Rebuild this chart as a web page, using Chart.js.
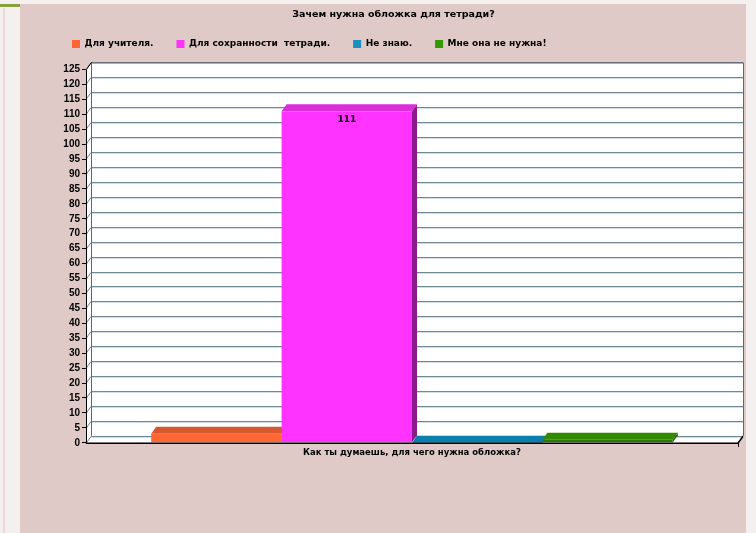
<!DOCTYPE html>
<html>
<head>
<meta charset="utf-8">
<script src="https://cdn.jsdelivr.net/npm/chart.js@4.4.1/dist/chart.umd.min.js"></script>
<style>
  html, body { margin: 0; padding: 0; }
  body { width: 756px; height: 533px; background: #f4f0f0; position: relative; overflow: hidden; }
  #stripe { position: absolute; left: 3px; top: 8px; width: 2px; height: 525px; background: #ead8d8; }
  #greenLine { position: absolute; left: 0; top: 4px; width: 20px; height: 3px; background: #8aa040; }
  #panel { position: absolute; left: 20px; top: 4px; width: 726px; height: 529px; background: #dfcac8; }
</style>
</head>
<body>
<div id="stripe"></div>
<div id="greenLine"></div>
<div id="panel"><canvas id="surveyChart"></canvas></div>
<script>
// Данные опроса
const categories = [''];
const seriesNames = ['Для учителя.', 'Для сохранности  тетради.', 'Не знаю.', 'Мне она не нужна!'];
const seriesValues = [3, 111, 0, 1];
const showValue = [false, true, false, false];
const yMax = 125;
const yStep = 5;

// Цвета граней столбиков
const frontColors = ['#ff6633', '#ff33ff', '#0a7fae', '#2a7a00'];
const topColors = ['#d6582e', '#d92ed9', '#0a7fae', '#338a00'];
const sideColors = ['#a83f1f', '#8c1a8c', '#065f82', '#1f5a00'];
const legendColors = ['#ff6633', '#ff33ff', '#1a8fc0', '#339900'];

const DX = 5, DY = 7;
const FONT = 'DejaVu Sans';

// Стенки, сетка и объём столбиков
const box3d = {
    id: 'box3d',
    beforeInit(chart) {
        const fit = chart.legend.fit;
        chart.legend.fit = function () {
            fit.bind(this)();
            this.height += 11;
        };
    },
    beforeDatasetsDraw(chart) {
        const ctx = chart.ctx;
        const a = chart.chartArea;
        const y = chart.scales.y;
        ctx.save();
        ctx.fillStyle = '#ffffff';
        ctx.fillRect(a.left + DX, a.top - DY, a.right - a.left, a.bottom - a.top);
        ctx.beginPath();
        ctx.moveTo(a.left, a.bottom);
        ctx.lineTo(a.left, a.top);
        ctx.lineTo(a.left + DX, a.top - DY);
        ctx.lineTo(a.left + DX, a.bottom - DY);
        ctx.lineTo(a.right + DX, a.bottom - DY);
        ctx.lineTo(a.right, a.bottom);
        ctx.closePath();
        ctx.fill();

        // линии сетки
        for (let v = 0; v <= yMax; v += yStep) {
            const yy = Math.round(y.getPixelForValue(v) - DY) + 0.5;
            ctx.strokeStyle = '#6f8a94';
            ctx.lineWidth = 1;
            ctx.beginPath();
            ctx.moveTo(a.left, yy + DY);
            ctx.lineTo(a.left + DX, yy);
            ctx.lineTo(a.right + DX, yy);
            ctx.stroke();
            ctx.strokeStyle = '#d2dde1';
            ctx.beginPath();
            ctx.moveTo(a.left + DX, yy + 1);
            ctx.lineTo(a.right + DX, yy + 1);
            ctx.stroke();
        }
        ctx.strokeStyle = '#666666';
        ctx.beginPath();
        ctx.moveTo(a.left + DX + 0.5, a.bottom - DY);
        ctx.lineTo(a.left + DX + 0.5, a.top - DY + 0.5);
        ctx.lineTo(a.right + DX + 0.5, a.top - DY + 0.5);
        ctx.lineTo(a.right + DX + 0.5, a.bottom - DY);
        ctx.stroke();

        // верх и бок столбиков
        chart.data.datasets.forEach((ds, i) => {
            const bar = chart.getDatasetMeta(i).data[0];
            const l = bar.x - bar.width / 2, r = bar.x + bar.width / 2;
            ctx.fillStyle = sideColors[i];
            ctx.beginPath();
            ctx.moveTo(r, bar.y);
            ctx.lineTo(r + DX, bar.y - DY);
            ctx.lineTo(r + DX, bar.base - DY);
            ctx.lineTo(r, bar.base);
            ctx.closePath();
            ctx.fill();
            ctx.fillStyle = topColors[i];
            ctx.beginPath();
            ctx.moveTo(l, bar.y);
            ctx.lineTo(r, bar.y);
            ctx.lineTo(r + DX, bar.y - DY);
            ctx.lineTo(l + DX, bar.y - DY);
            ctx.closePath();
            ctx.fill();
        });
        ctx.restore();
    },
    afterDatasetsDraw(chart) {
        const ctx = chart.ctx;
        const a = chart.chartArea;
        ctx.save();
        ctx.strokeStyle = '#000000';
        ctx.lineWidth = 1;
        ctx.beginPath();
        ctx.moveTo(a.left + 0.5, a.bottom);
        ctx.lineTo(a.left + 0.5, a.top);
        ctx.lineTo(a.left + DX + 0.5, a.top - DY);
        ctx.stroke();
        ctx.lineWidth = 1.5;
        ctx.beginPath();
        ctx.moveTo(a.left, a.bottom + 0.5);
        ctx.lineTo(a.right, a.bottom + 0.5);
        ctx.lineTo(a.right + DX, a.bottom - DY + 0.5);
        ctx.stroke();
        ctx.lineWidth = 1;
        ctx.beginPath();
        ctx.moveTo(a.right + 0.5, a.bottom);
        ctx.lineTo(a.right + 0.5, a.bottom + 4);
        ctx.stroke();

        // подпись значения
        ctx.fillStyle = '#000000';
        ctx.font = 'bold 9px ' + FONT;
        ctx.textAlign = 'center';
        ctx.textBaseline = 'middle';
        chart.data.datasets.forEach((ds, i) => {
            if (!showValue[i]) return;
            const bar = chart.getDatasetMeta(i).data[0];
            ctx.fillText(String(ds.data[0]), bar.x, bar.y + 8);
        });
        ctx.restore();
    }
};

const surveyChart = new Chart(document.getElementById('surveyChart'), {
    type: 'bar',
    data: {
        labels: categories,
        datasets: seriesNames.map((name, i) => ({
            label: name,
            data: [seriesValues[i]],
            backgroundColor: frontColors[i],
            borderWidth: 0
        }))
    },
    options: {
        responsive: true,
        maintainAspectRatio: false,
        animation: false,
        layout: { padding: { left: 29, right: 8, top: 0, bottom: 66 } },
        datasets: { bar: { barPercentage: 1, categoryPercentage: 0.8 } },
        plugins: {
            title: {
                display: true,
                text: 'Зачем нужна обложка для тетради?',
                color: '#000',
                font: { family: FONT, size: 9.5, weight: 'bold' },
                padding: { top: 5, bottom: -4 }
            },
            legend: {
                position: 'top',
                align: 'start',
                labels: {
                    color: '#000',
                    font: { family: FONT, size: 9, weight: 'bold' },
                    boxWidth: 8,
                    boxHeight: 8,
                    padding: 23,
                    generateLabels: (chart) => seriesNames.map((name, i) => ({
                        text: name,
                        fillStyle: legendColors[i],
                        strokeStyle: legendColors[i],
                        lineWidth: 0,
                        datasetIndex: i,
                        hidden: false
                    }))
                }
            },
            tooltip: { enabled: false }
        },
        scales: {
            x: {
                grid: { display: false },
                border: { display: false },
                ticks: { display: false },
                title: {
                    display: true,
                    text: 'Как ты думаешь, для чего нужна обложка?',
                    color: '#000',
                    font: { family: FONT, size: 8.5, weight: 'bold' },
                    padding: { top: -3, bottom: 9 }
                }
            },
            y: {
                min: 0,
                max: yMax,
                afterFit: (scale) => { scale.width = 37; },
                border: { display: false },
                grid: { drawOnChartArea: false, drawTicks: true, tickLength: 4, color: '#000' },
                ticks: {
                    stepSize: yStep,
                    autoSkip: false,
                    color: '#000',
                    padding: 2,
                    font: { family: 'Liberation Sans', size: 10, weight: 'bold' }
                }
            }
        }
    },
    plugins: [box3d]
});
</script>
</body>
</html>
